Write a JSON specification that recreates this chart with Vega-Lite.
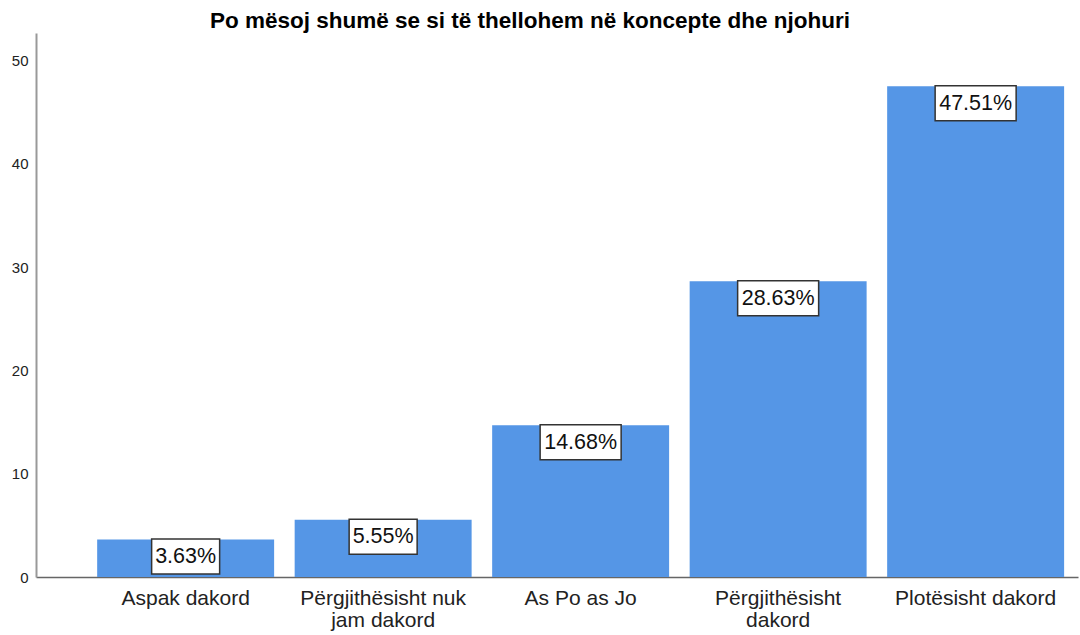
{
  "$schema": "https://vega.github.io/schema/vega-lite/v6.json",
  "width": 1042,
  "height": 544,
  "autosize": "none",
  "padding": {"left": 36, "top": 33, "right": 2, "bottom": 58},
  "background": "white",
  "config": {"view": {"stroke": null}, "font": "Liberation Sans"},
  "title": {
    "text": "Po mësoj shumë se si të thellohem në koncepte dhe njohuri",
    "font": "Liberation Sans",
    "fontSize": 22.5,
    "fontWeight": "bold",
    "color": "#000000",
    "anchor": "middle",
    "dx": -27,
    "offset": 1
  },
  "data": {
    "values": [
      {"category": "Aspak dakord", "value": 3.63, "label": "3.63%"},
      {"category": "Përgjithësisht nuk jam dakord", "value": 5.55, "label": "5.55%"},
      {"category": "As Po as Jo", "value": 14.68, "label": "14.68%"},
      {"category": "Përgjithësisht dakord", "value": 28.63, "label": "28.63%"},
      {"category": "Plotësisht dakord", "value": 47.51, "label": "47.51%"}
    ]
  },
  "encoding": {
    "x": {
      "field": "category",
      "type": "nominal",
      "sort": null,
      "scale": {"paddingInner": 0.104, "paddingOuter": 0.19, "align": 0.815},
      "axis": {
        "title": null,
        "labelAngle": 0,
        "labelFont": "Liberation Sans",
        "labelFontSize": 21,
        "labelColor": "#222222",
        "labelPadding": 10,
        "labelLimit": 0,
        "labelLineHeight": 22,
        "ticks": false,
        "domainColor": "#666666",
        "domainWidth": 1.5,
        "labelExpr": "datum.value == 'Përgjithësisht nuk jam dakord' ? ['Përgjithësisht nuk', 'jam dakord'] : datum.value == 'Përgjithësisht dakord' ? ['Përgjithësisht', 'dakord'] : datum.value"
      }
    },
    "y": {
      "field": "value",
      "type": "quantitative",
      "scale": {"domain": [0, 52.66], "nice": false},
      "axis": {
        "title": null,
        "values": [0, 10, 20, 30, 40, 50],
        "grid": false,
        "ticks": false,
        "labelFont": "Liberation Sans",
        "labelFontSize": 15,
        "labelColor": "#222222",
        "labelPadding": 8,
        "domainColor": "#999999",
        "domainWidth": 2
      }
    }
  },
  "layer": [
    {"mark": {"type": "bar", "color": "#5596e6"}},
    {
      "transform": [{"filter": "length(datum.label) <= 5"}],
      "mark": {
        "type": "point",
        "shape": "M-1,-0.515H1V0.515H-1Z",
        "size": 4624,
        "filled": true,
        "fill": "white",
        "stroke": "#333333",
        "strokeWidth": 1.5,
        "opacity": 1,
        "yOffset": 17
      }
    },
    {
      "transform": [{"filter": "length(datum.label) > 5"}],
      "mark": {
        "type": "point",
        "shape": "M-1,-0.432H1V0.432H-1Z",
        "size": 6561,
        "filled": true,
        "fill": "white",
        "stroke": "#333333",
        "strokeWidth": 1.5,
        "opacity": 1,
        "yOffset": 17
      }
    },
    {
      "mark": {
        "type": "text",
        "font": "Liberation Sans",
        "fontSize": 21.5,
        "color": "#111111",
        "baseline": "middle",
        "yOffset": 17.5
      },
      "encoding": {"text": {"field": "label"}}
    }
  ]
}
